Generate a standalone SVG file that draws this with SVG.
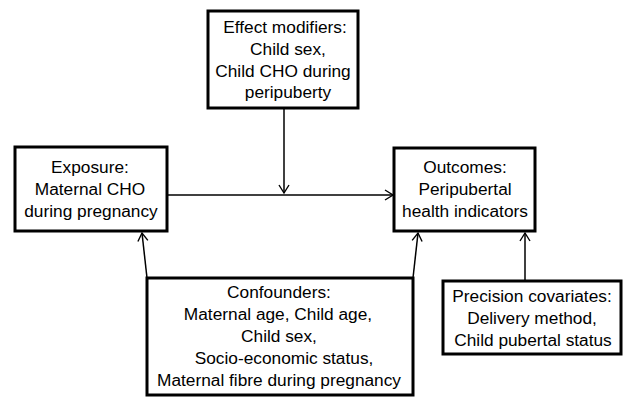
<svg xmlns="http://www.w3.org/2000/svg" width="623" height="397" viewBox="0 0 623 397">
<defs>
<marker id="arr" markerWidth="12" markerHeight="12" refX="10" refY="6" orient="auto" markerUnits="userSpaceOnUse">
<path d="M2,1 L10,6 L2,11" fill="none" stroke="#000" stroke-width="1.4"/>
</marker>
<style>
.box{fill:#fff;stroke:#000;stroke-width:3}
.t{font-family:"Liberation Sans",Arial,sans-serif;font-size:17.3px;fill:#000;text-anchor:middle}
.c{fill:none;stroke:#000;stroke-width:1.5;marker-end:url(#arr)}
</style>
</defs>
<rect width="623" height="397" fill="#fff"/>
<g id="connectors">
<line class="c" x1="284" y1="108" x2="284" y2="193"/>
<line class="c" x1="167" y1="195" x2="393" y2="195"/>
<line class="c" x1="147" y1="278" x2="142" y2="233"/>
<line class="c" x1="413" y1="278" x2="418" y2="233"/>
<line class="c" x1="525" y1="280" x2="525" y2="233"/>
</g>
<g id="effect">
<rect class="box" x="208" y="11" width="150" height="97"/>
<text class="t" x="285" y="33">Effect modifiers:</text>
<text class="t" x="288" y="55">Child sex,</text>
<text class="t" x="283" y="77">Child CHO during</text>
<text class="t" x="288" y="98">peripuberty</text>
</g>
<g id="exposure">
<rect class="box" x="15" y="147" width="152" height="84"/>
<text class="t" x="90" y="173">Exposure:</text>
<text class="t" x="90" y="195">Maternal CHO</text>
<text class="t" x="91" y="217">during pregnancy</text>
</g>
<g id="outcomes">
<rect class="box" x="394" y="148" width="141" height="83"/>
<text class="t" x="465" y="173">Outcomes:</text>
<text class="t" x="465" y="195">Peripubertal</text>
<text class="t" x="465" y="217">health indicators</text>
</g>
<g id="confounders">
<rect class="box" x="147" y="278" width="266" height="117"/>
<text class="t" x="279" y="298">Confounders:</text>
<text class="t" x="278" y="320">Maternal age, Child age,</text>
<text class="t" x="279" y="342">Child sex,</text>
<text class="t" x="284" y="364">Socio-economic status,</text>
<text class="t" x="279" y="386">Maternal fibre during pregnancy</text>
</g>
<g id="precision">
<rect class="box" x="443" y="281" width="178" height="73"/>
<text class="t" x="532" y="302">Precision covariates:</text>
<text class="t" x="532" y="324">Delivery method,</text>
<text class="t" x="533" y="346">Child pubertal status</text>
</g>
</svg>
